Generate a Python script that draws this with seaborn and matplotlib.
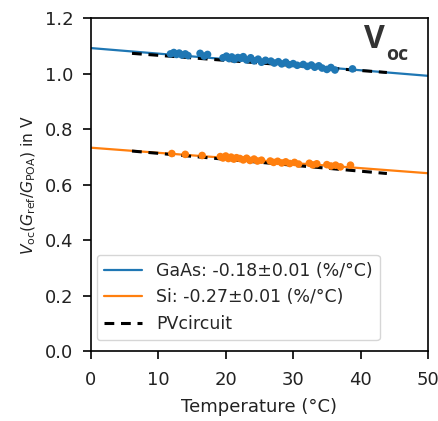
import numpy as np
import pandas as pd
import matplotlib
matplotlib.use("Agg")
import matplotlib.pyplot as plt
import seaborn as sns

# Measured open-circuit voltage vs. module temperature
gaas_temp = [11.8, 12.3, 12.7, 13.1, 13.5, 14.0, 14.4, 16.2, 16.8, 17.3, 19.6, 20.1,
             20.5, 20.9, 21.3, 21.8, 22.2, 22.6, 23.1, 23.7, 24.2, 24.8, 25.3, 25.9,
             26.7, 27.2, 27.8, 28.3, 28.9, 29.4, 30.0, 30.6, 31.5, 32.1, 32.7, 33.2,
             33.8, 34.3, 35.0, 35.6, 36.2, 38.8]
gaas_voc = [1.071, 1.076, 1.069, 1.074, 1.067, 1.071, 1.065, 1.073, 1.063, 1.069, 1.057, 1.063,
            1.054, 1.060, 1.051, 1.058, 1.055, 1.061, 1.049, 1.057, 1.046, 1.052, 1.041, 1.048,
            1.045, 1.038, 1.043, 1.035, 1.041, 1.032, 1.036, 1.030, 1.033, 1.026, 1.031, 1.023,
            1.028, 1.020, 1.015, 1.022, 1.013, 1.017]

si_temp = [12.0, 14.0, 16.5, 19.2, 19.6, 20.0, 20.4, 20.8, 21.2, 21.6, 22.1, 22.6,
           23.1, 23.6, 24.2, 24.7, 25.3, 26.6, 27.1, 27.7, 28.3, 28.9, 29.5, 30.2,
           30.8, 32.4, 32.9, 33.5, 35.0, 35.6, 36.3, 37.0, 38.5]
si_voc = [0.712, 0.709, 0.705, 0.701, 0.696, 0.703, 0.694, 0.699, 0.692, 0.697, 0.694, 0.689,
          0.695, 0.687, 0.692, 0.685, 0.688, 0.685, 0.680, 0.684, 0.678, 0.682, 0.676, 0.680,
          0.674, 0.677, 0.671, 0.675, 0.672, 0.667, 0.670, 0.664, 0.670]

# Linear fits (endpoints over the axis range)
fit_temp = [0, 50]
gaas_fit = [1.092, 0.992]
si_fit = [0.733, 0.641]

# PVcircuit model curves
model_temp = [6.1, 43.9]
gaas_model = [1.073, 1.004]
si_model = [0.721, 0.640]

labels = ["GaAs: -0.18±0.01 (%/°C)", "Si: -0.27±0.01 (%/°C)", "PVcircuit"]
blue, orange = "#1f77b4", "#ff7f0e"

sns.set_style("ticks")
plt.rcParams["font.family"] = ["DejaVu Sans"]

fig = plt.figure(figsize=(4.39, 4.21), dpi=100)
ax = fig.add_axes([0.207, 0.166, 0.768, 0.791])

sns.lineplot(x=fit_temp, y=gaas_fit, ax=ax, color=blue, lw=1.6, label=labels[0])
sns.lineplot(x=fit_temp, y=si_fit, ax=ax, color=orange, lw=1.6, label=labels[1])
sns.lineplot(x=model_temp, y=gaas_model, ax=ax, color="black", lw=2.2,
             linestyle=(0, (3.2, 2.2)), label=labels[2])
sns.lineplot(x=model_temp, y=si_model, ax=ax, color="black", lw=2.2,
             linestyle=(0, (3.2, 2.2)))
sns.scatterplot(x=gaas_temp, y=gaas_voc, ax=ax, color=blue, s=30, edgecolor="none", zorder=3)
sns.scatterplot(x=si_temp, y=si_voc, ax=ax, color=orange, s=30, edgecolor="none", zorder=3)

ax.set_xlim(0, 50)
ax.set_ylim(0, 1.2)
ax.set_xticks([0, 10, 20, 30, 40, 50])
ax.set_yticks([0.0, 0.2, 0.4, 0.6, 0.8, 1.0, 1.2])
ax.set_yticklabels(["0.0", "0.2", "0.4", "0.6", "0.8", "1.0", "1.2"])
ax.tick_params(labelsize=13, length=6, width=1.2, color="black", labelcolor="#222222")
ax.tick_params(axis="x", pad=8.5)
ax.tick_params(axis="y", pad=6.5)
for sp in ax.spines.values():
    sp.set_linewidth(1.2)
    sp.set_color("black")

ax.set_xlabel("Temperature (°C)", fontsize=13, color="#222222", labelpad=6)
ax.set_ylabel(r"$V_{\mathrm{oc}}(G_{\mathrm{ref}}/G_{\mathrm{POA}})$ in V",
              fontsize=11.2, color="#222222", labelpad=5)

leg = ax.legend(loc="lower left", bbox_to_anchor=(0.018, 0.033), borderaxespad=0,
                fontsize=12.5, frameon=True, handlelength=2.2)
leg.get_frame().set_edgecolor("#cccccc")

ax.text(0.81, 0.935, "V", transform=ax.transAxes, fontsize=23, fontweight="bold",
        family=["Open Sans", "DejaVu Sans"], color="#333333", va="center", ha="left")
ax.text(0.875, 0.89, "oc", transform=ax.transAxes, fontsize=14, fontweight="bold",
        family=["Open Sans", "DejaVu Sans"], color="#333333", va="center", ha="left")

fig.savefig("out.png", dpi=100)
